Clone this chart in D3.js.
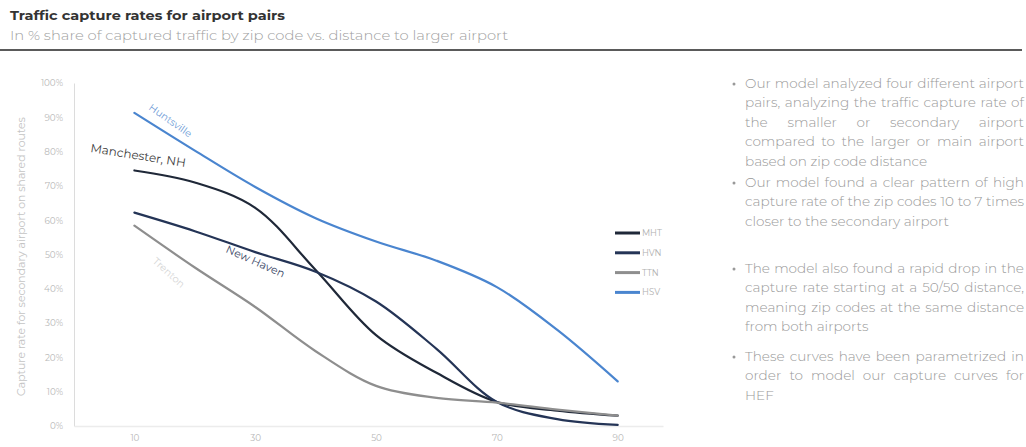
<!DOCTYPE html>
<html>
<head>
<meta charset="utf-8">
<script src="https://cdn.jsdelivr.net/npm/d3@7"></script>
<style>
  html, body { margin: 0; padding: 0; background: #fff; }
  svg { display: block; }
</style>
</head>
<body>
<svg id="chart" width="1026" height="447"></svg>
<script>
// Distance to the larger airport (zip code distance band)
const distances = [10, 20, 30, 40, 50, 60, 70, 80, 90];
// Capture rate (%) of the secondary airport for each pair
const mhtValues = [74.5, 71, 63.6, 45.5, 26.5, 15.5, 7, 4.5, 3];
const hvnValues = [62.2, 56.8, 50.7, 45, 36.3, 22.5, 7, 2, 0.3];
const ttnValues = [58.4, 46.2, 34.7, 21.8, 11.7, 8.2, 6.8, 4.8, 3];
const hsvValues = [91.3, 80.3, 69.7, 60.6, 53.8, 48.2, 40.5, 28, 13];
const seriesCodes = ["MHT", "HVN", "TTN", "HSV"];
const seriesNames = ["Manchester, NH", "New Haven", "Trenton", "Huntsville"];
const xTickValues = [10, 30, 50, 70, 90];
const yTickValues = [0, 10, 20, 30, 40, 50, 60, 70, 80, 90, 100];

const titleText = "Traffic capture rates for airport pairs";
const subtitleText = "In % share of captured traffic by zip code vs. distance to larger airport";
const yAxisTitle = "Capture rate for secondary airport on shared routes";
const notes = [
  ["Our model analyzed four different airport",
   "pairs, analyzing the traffic capture rate of",
   "the smaller or secondary airport",
   "compared to the larger or main airport",
   "based on zip code distance"],
  ["Our model found a clear pattern of high",
   "capture rate of the zip codes 10 to 7 times",
   "closer to the secondary airport"],
  ["The model also found a rapid drop in the",
   "capture rate starting at a 50/50 distance,",
   "meaning zip codes at the same distance",
   "from both airports"],
  ["These curves have been parametrized in",
   "order to model our capture curves for",
   "HEF"]
];

const series = [
  { code: seriesCodes[0], name: seriesNames[0], values: mhtValues, color: "#1f2838" },
  { code: seriesCodes[1], name: seriesNames[1], values: hvnValues, color: "#243456" },
  { code: seriesCodes[2], name: seriesNames[2], values: ttnValues, color: "#8e8e8e" },
  { code: seriesCodes[3], name: seriesNames[3], values: hsvValues, color: "#4a85cf" }
];

const font = "Montserrat, 'DejaVu Sans', 'Open Sans', sans-serif";
const svg = d3.select("#chart");

// ---- Header ----
svg.append("text")
  .attr("x", 10).attr("y", 20)
  .attr("font-family", font).attr("font-weight", "bold")
  .attr("font-size", 13).attr("fill", "#333")
  .attr("textLength", 275).attr("lengthAdjust", "spacingAndGlyphs")
  .text(titleText);
svg.append("text")
  .attr("x", 10).attr("y", 40)
  .attr("font-family", font).attr("font-weight", 300)
  .attr("font-size", 13).attr("fill", "#a0a0a0")
  .attr("textLength", 498).attr("lengthAdjust", "spacingAndGlyphs")
  .text(subtitleText);
svg.append("line")
  .attr("x1", 0).attr("x2", 1022).attr("y1", 50).attr("y2", 50)
  .attr("stroke", "#5a5a5a").attr("stroke-width", 2);

// ---- Scales ----
const x = d3.scaleLinear().domain([0, 97.5]).range([74, 663]);
const y = d3.scaleLinear().domain([0, 100]).range([426, 83]);

// ---- Axes ----
const yAxis = svg.append("g")
  .attr("transform", `translate(${x(0)},0)`)
  .call(d3.axisLeft(y).tickValues(yTickValues).tickSize(0).tickPadding(11)
    .tickFormat(d => d + "%"));
yAxis.select(".domain").attr("stroke", "#dcdcdc").attr("stroke-width", 1);
yAxis.selectAll("text")
  .attr("font-family", font).attr("font-size", 8.8).attr("fill", "#b8b8b8");

const xAxis = svg.append("g")
  .attr("transform", `translate(0,${y(0)})`)
  .call(d3.axisBottom(x).tickValues(xTickValues).tickSize(0).tickPadding(9));
xAxis.select(".domain").attr("stroke", "#ececec").attr("stroke-width", 1.5);
xAxis.selectAll("text")
  .attr("font-family", font).attr("font-size", 8.8).attr("fill", "#b8b8b8");

svg.append("text")
  .attr("transform", `translate(25,${(y(0) + y(100)) / 2 + 2}) rotate(-90)`)
  .attr("text-anchor", "middle")
  .attr("font-family", font).attr("font-size", 10.9).attr("fill", "#c4c4c4")
  .text(yAxisTitle);

// ---- Curves ----
const line = d3.line()
  .x((d, i) => x(distances[i]))
  .y(d => y(d))
  .curve(d3.curveCatmullRom.alpha(0.5));

svg.append("g").selectAll("path")
  .data(series)
  .join("path")
  .attr("d", d => line(d.values))
  .attr("fill", "none")
  .attr("stroke", d => d.color)
  .attr("stroke-width", 2.2)
  .attr("stroke-linecap", "round");

// ---- Curve labels ----
const curveLabels = [
  { s: 0, px: 90, py: 152, angle: 9, size: 12, color: "#3c3c3c" },
  { s: 1, px: 225, py: 252, angle: 24, size: 11, color: "#3a4766" },
  { s: 2, px: 152, py: 262, angle: 42, size: 10, color: "#d6d6d6" },
  { s: 3, px: 148, py: 109, angle: 35, size: 10, color: "#6d9bd6" }
];
svg.append("g").selectAll("text")
  .data(curveLabels)
  .join("text")
  .attr("transform", d => `translate(${d.px},${d.py}) rotate(${d.angle})`)
  .attr("font-family", font)
  .attr("font-size", d => d.size)
  .attr("fill", d => d.color)
  .text(d => series[d.s].name);

// ---- Legend ----
const legend = svg.append("g").selectAll("g")
  .data(series)
  .join("g")
  .attr("transform", (d, i) => `translate(615,${233 + i * 19.8})`);
legend.append("line")
  .attr("x1", 0).attr("x2", 25)
  .attr("stroke", d => d.color).attr("stroke-width", 3);
legend.append("text")
  .attr("x", 27).attr("dy", "0.35em")
  .attr("font-family", font).attr("font-size", 8.5).attr("fill", "#b0b0b0")
  .text(d => d.code);

// ---- Notes (justified bullet list) ----
const notesLeft = 745, notesRight = 1024, lineH = 19.4;
const paraTops = [88, 187, 273, 361];
const notesSize = 13.6;
const notesG = svg.append("g");
notes.forEach((para, pi) => {
  notesG.append("circle")
    .attr("cx", 734).attr("cy", paraTops[pi] - 4).attr("r", 1.5)
    .attr("fill", "#999");
  para.forEach((ln, li) => {
    const yy = paraTops[pi] + li * lineH;
    const last = li === para.length - 1;
    const words = ln.split(" ");
    const t = notesG.append("text")
      .attr("y", yy)
      .style("font-family", font)
      .style("font-size", notesSize + "px")
      .style("font-weight", 300)
      .style("fill", "#999999");
    if (last) {
      t.attr("x", notesLeft).text(ln);
      return;
    }
    // measure words, then spread them across the column width
    const spans = words.map(w => t.append("tspan").text(w));
    const widths = spans.map(s => s.node().getComputedTextLength());
    const total = d3.sum(widths);
    const gap = Math.max(2, (notesRight - notesLeft - total) / (words.length - 1));
    let cx = notesLeft;
    spans.forEach((s, k) => {
      s.attr("x", cx);
      cx += widths[k] + gap;
    });
  });
});
</script>
</body>
</html>
